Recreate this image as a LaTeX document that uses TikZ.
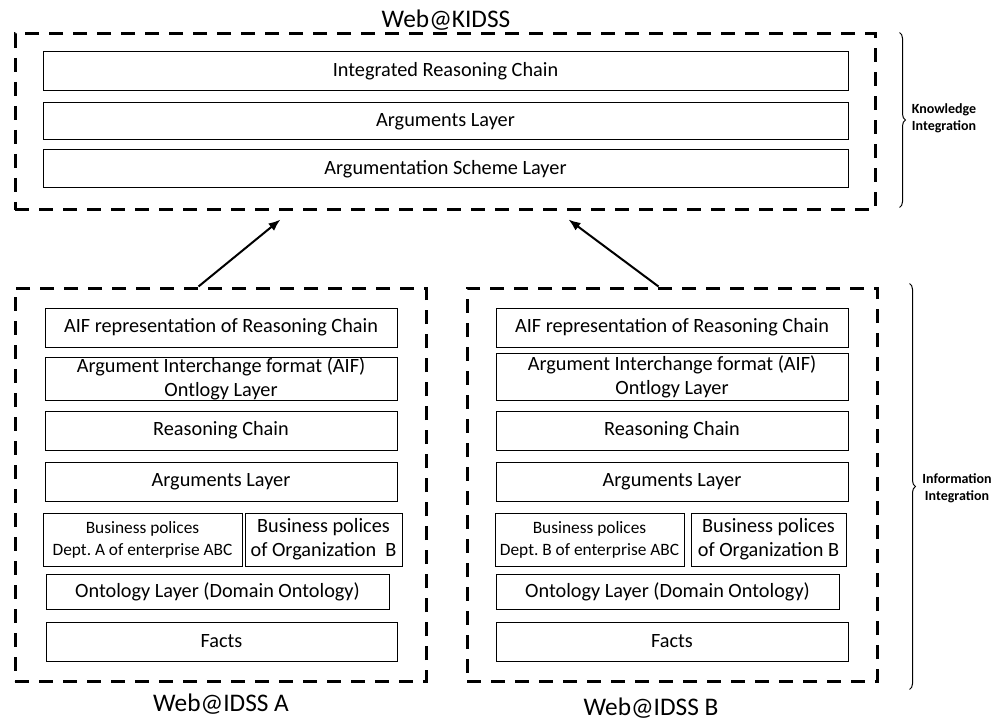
\documentclass[tikz,border=0pt]{standalone}
\usepackage{fontspec}
\setmainfont{Carlito}
\frenchspacing
\usetikzlibrary{positioning, decorations.pathreplacing, arrows.meta}

\begin{document}
\begin{tikzpicture}
    [x=0.75pt, y=-0.75pt,
    layer/.style={rectangle, draw, line width=0.75pt, text centered, align=center, inner sep=0pt,
    font=\fontsize{15.2}{18}\selectfont},
    smalllayer/.style={layer, font=\fontsize{13}{16.5}\selectfont},
    system/.style={rectangle, draw, line width=2.25pt, dash pattern=on 10.5pt off 7.5pt, inner sep=0pt},
    title/.style={font=\fontsize{19}{22}\selectfont},
    side/.style={font=\bfseries\fontsize{10.5}{12.5}\selectfont, align=center},
    bracket/.style={decorate, decoration={brace, amplitude=4.5pt}, line width=0.75pt},
    arrow/.style={line width=1.5pt, -{Latex[length=9pt, width=7pt]}}]
    \useasboundingbox (0,0) rectangle (1005,720);

    % knowledge integration
    \node [system, minimum width=645pt, minimum height=132pt] (kidss) at (445,122) {};
    \node [title] (kidss_title) at (446,20) {Web@KIDSS};
    \node [layer, minimum width=603.75pt, minimum height=29.25pt] (irc) at (445.5,71.5) {Integrated Reasoning Chain};
    \node [layer, minimum width=603.75pt, minimum height=27.75pt] (args_k) at (445.5,121.5) {Arguments Layer};
    \node [layer, minimum width=603.75pt, minimum height=28.5pt] (scheme) at (445.5,169) {Argumentation Scheme Layer};

    % information integration, system A
    \node [system, minimum width=308.25pt, minimum height=294.75pt] (idss_a) at (220.5,484.5) {};
    \node [title] (idss_a_title) at (221,704) {Web@IDSS A};
    \node [layer, minimum width=264pt, minimum height=29.25pt] (aif_a) at (221,327.5)
    {AIF representation of Reasoning Chain};
    \node [layer, minimum width=264pt, minimum height=31.5pt] (ont_aif_a) at (221,379)
    {Argument Interchange format (AIF)\\Ontlogy Layer};
    \node [layer, minimum width=264pt, minimum height=29.25pt] (chain_a) at (221,430.5) {Reasoning Chain};
    \node [layer, minimum width=264pt, minimum height=29.25pt] (args_a) at (221,481.5) {Arguments Layer};
    \node [smalllayer, minimum width=149.25pt, minimum height=39.75pt] (dept_a) at (142.5,539.5)
    {Business polices\\Dept. A of enterprise ABC};
    \node [layer, minimum width=117.75pt, minimum height=39.75pt] (org_a) at (323.5,539.5)
    {Business polices\\of Organization~~B};
    \node [layer, minimum width=257.25pt, minimum height=26.25pt] (domain_a) at (217.5,591.5)
    {Ontology Layer (Domain Ontology)};
    \node [layer, minimum width=263.25pt, minimum height=29.25pt] (facts_a) at (221.5,641.5) {Facts};

    % information integration, system B
    \node [system, minimum width=307.5pt, minimum height=294.75pt] (idss_b) at (672,484.5) {};
    \node [title] (idss_b_title) at (651,708) {Web@IDSS B};
    \node [layer, minimum width=264pt, minimum height=29.25pt] (aif_b) at (672,327.5)
    {AIF representation of Reasoning Chain};
    \node [layer, minimum width=264pt, minimum height=35.25pt] (ont_aif_b) at (672,376.5)
    {Argument Interchange format (AIF)\\Ontlogy Layer};
    \node [layer, minimum width=264pt, minimum height=29.25pt] (chain_b) at (672,430.5) {Reasoning Chain};
    \node [layer, minimum width=264pt, minimum height=29.25pt] (args_b) at (672,481.5) {Arguments Layer};
    \node [smalllayer, minimum width=141.75pt, minimum height=39.75pt] (dept_b) at (589.5,539.5)
    {Business polices\\Dept. B of enterprise ABC};
    \node [layer, minimum width=116.25pt, minimum height=39.75pt] (org_b) at (768.5,539.5)
    {Business polices\\of Organization B};
    \node [layer, minimum width=257.25pt, minimum height=26.25pt] (domain_b) at (667.5,591.5)
    {Ontology Layer (Domain Ontology)};
    \node [layer, minimum width=264pt, minimum height=29.25pt] (facts_b) at (672,641.5) {Facts};

    % side labels
    \node [side] (knowledge) at (944,118) {Knowledge\\Integration};
    \node [side] (information) at (957,488) {Information\\Integration};
    \draw [bracket] ([xshift=17.25pt]kidss.north east) -- ([xshift=17.25pt, yshift=3pt]kidss.south east);
    \draw [bracket] ([xshift=23.25pt, yshift=2.25pt]idss_b.north east) -- ([xshift=23.25pt, yshift=-5.25pt]idss_b.south east);

    \draw [arrow] ([xshift=138.75pt]idss_a.north west) -- ([xshift=200.25pt, yshift=-6pt]kidss.south west);
    \draw [arrow] ([xshift=144.75pt]idss_b.north west) -- ([xshift=416.25pt, yshift=-6pt]kidss.south west);
  \end{tikzpicture}
\end{document}
